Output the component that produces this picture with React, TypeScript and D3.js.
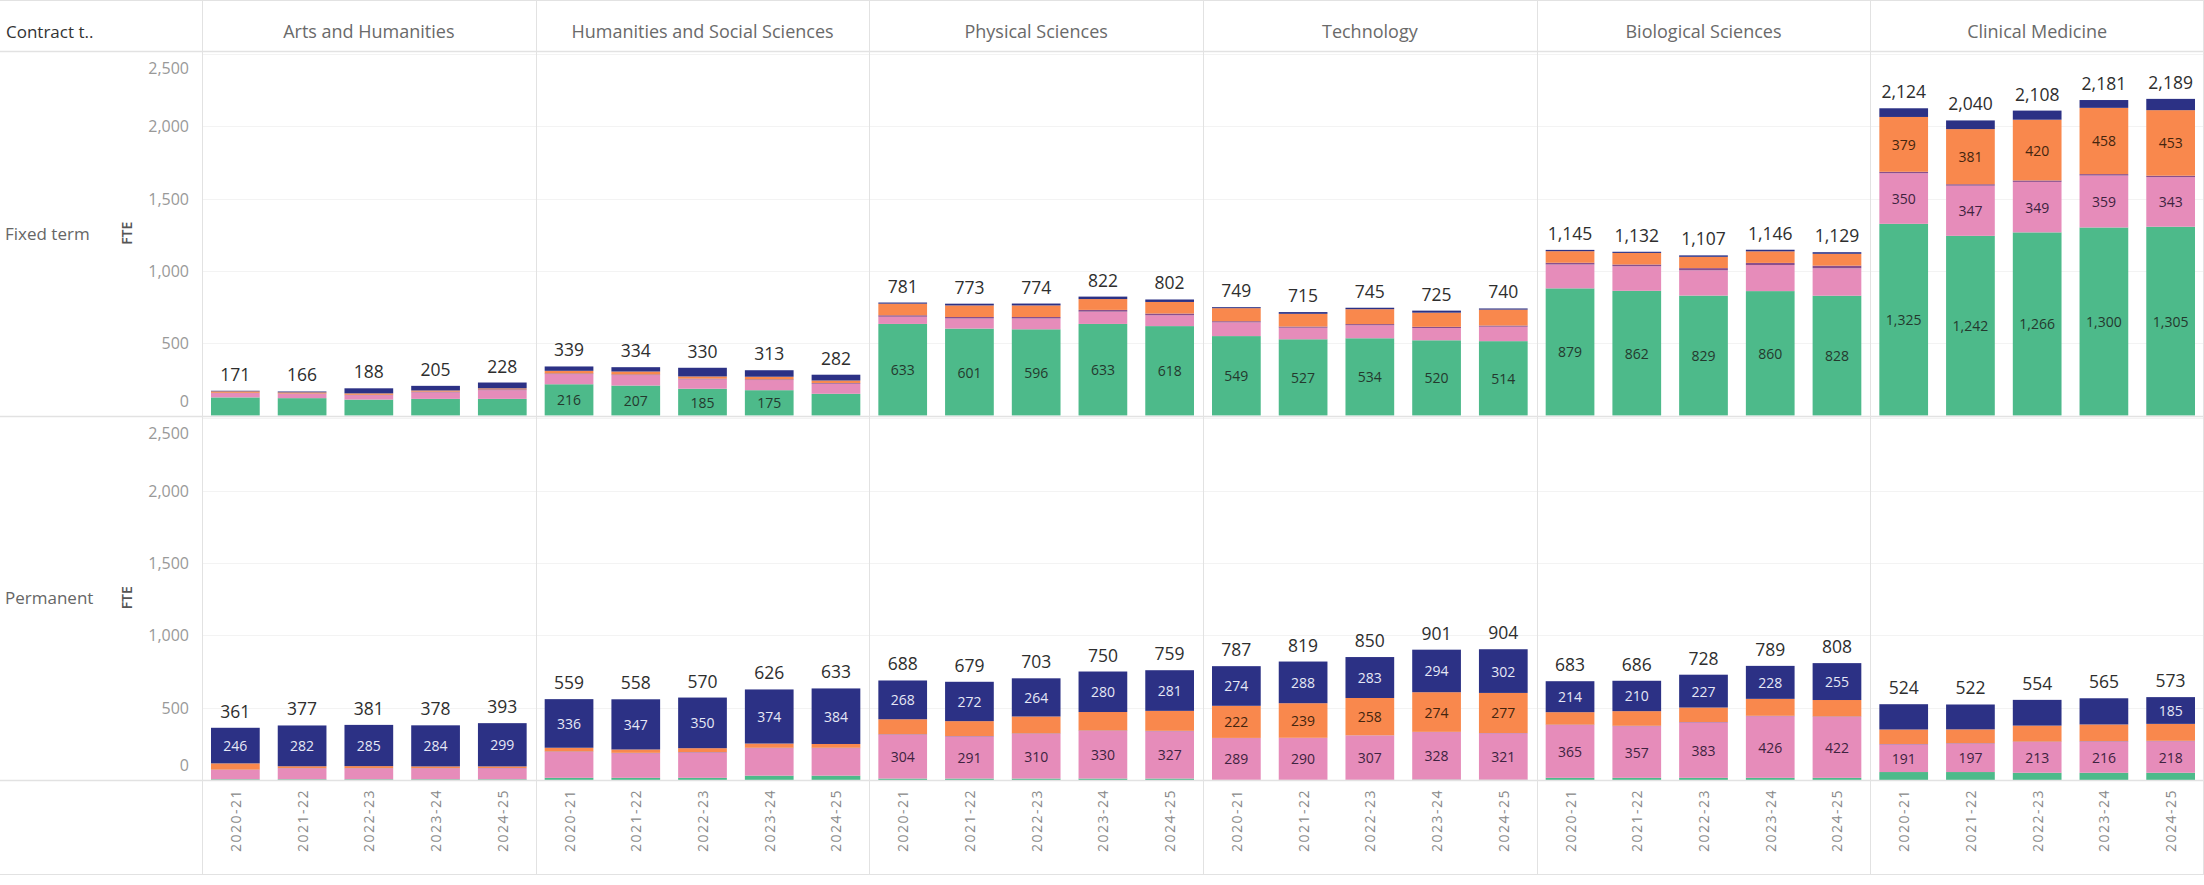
import * as d3 from 'd3';

const disciplines = [
  'Arts and Humanities',
  'Humanities and Social Sciences',
  'Physical Sciences',
  'Technology',
  'Biological Sciences',
  'Clinical Medicine',
];
const years = ['2020-21', '2021-22', '2022-23', '2023-24', '2024-25'];
const contracts = ['Fixed term', 'Permanent'];
const yTicks = [0, 500, 1000, 1500, 2000, 2500];

// stack order, bottom to top
const seriesKeys = ['green', 'pink', 'purple', 'orange', 'navy'];
const seriesColors: Record<string, string> = {
  green: '#4dba8a',
  pink: '#e68cba',
  purple: '#8a4f8c',
  orange: '#f9884d',
  navy: '#2c3185',
};
const labelColors: Record<string, string> = {
  green: '#24392e',
  pink: '#3e2340',
  purple: '#ffffff',
  orange: '#44250f',
  navy: '#e6e8f6',
};

// values per discipline (6) x year (5), discipline-major
const fixedGreen = [
  125, 120, 110, 115, 115,
  216, 207, 185, 175, 150,
  633, 601, 596, 633, 618,
  549, 527, 534, 520, 514,
  879, 862, 829, 860, 828,
  1325, 1242, 1266, 1300, 1305,
];
const fixedPink = [
  30, 30, 30, 45, 60,
  70, 72, 65, 70, 70,
  50, 70, 75, 85, 75,
  95, 80, 90, 85, 100,
  165, 170, 175, 180, 190,
  350, 347, 349, 359, 343,
];
const fixedPurple = [
  2, 2, 3, 5, 6,
  5, 5, 5, 5, 5,
  10, 10, 10, 12, 12,
  8, 8, 8, 8, 8,
  12, 12, 15, 15, 18,
  10, 10, 10, 10, 10,
];
const fixedOrange = [
  10, 8, 10, 8, 7,
  18, 20, 15, 18, 17,
  80, 80, 80, 75, 80,
  90, 88, 103, 98, 110,
  80, 80, 78, 80, 82,
  379, 381, 420, 458, 453,
];
const fixedNavy = [
  4, 6, 35, 32, 40,
  30, 30, 60, 45, 40,
  8, 12, 13, 17, 17,
  7, 12, 10, 14, 8,
  9, 8, 10, 11, 11,
  60, 60, 63, 54, 78,
];

const permGreen = [
  5, 5, 5, 5, 5,
  15, 15, 15, 30, 30,
  10, 10, 10, 10, 10,
  1, 1, 1, 3, 2,
  15, 15, 15, 15, 15,
  55, 55, 50, 50, 50,
];
const permPink = [
  65, 75, 75, 75, 76,
  180, 170, 175, 190, 190,
  304, 291, 310, 330, 327,
  289, 290, 307, 328, 321,
  365, 357, 383, 426, 422,
  191, 197, 213, 216, 218,
];
const permPurple = [
  2, 2, 2, 2, 2,
  3, 3, 3, 3, 3,
  3, 3, 3, 3, 3,
  1, 1, 1, 2, 2,
  3, 3, 3, 3, 3,
  3, 3, 3, 3, 3,
];
const permOrange = [
  43, 13, 14, 12, 11,
  25, 23, 27, 29, 26,
  103, 103, 116, 127, 138,
  222, 239, 258, 274, 277,
  86, 101, 100, 117, 113,
  100, 95, 110, 115, 117,
];
const permNavy = [
  246, 282, 285, 284, 299,
  336, 347, 350, 374, 384,
  268, 272, 264, 280, 281,
  274, 288, 283, 294, 302,
  214, 210, 227, 228, 255,
  175, 172, 178, 181, 185,
];

// which segments carry a value label, per discipline
const fixedLabelled = [[], ['green'], ['green'], ['green'], ['green'], ['green', 'pink', 'orange']];
const permLabelled = [['navy'], ['navy'], ['navy', 'pink'], ['navy', 'orange', 'pink'], ['navy', 'pink'], ['pink']];
const extraLabels = ['Permanent|Clinical Medicine|2024-25|navy'];
const minLabelValue = 170;

const W = 2204;
const H = 885;
const panelLeft = 202;
const plotTop = 51;
const plotBottom = 780;
const axisBottom = 874;
const font = "'Open Sans', 'DejaVu Sans', sans-serif";
const lineColor = '#e2e2e2';

const seriesByContract: Record<string, Record<string, number[]>> = {
  'Fixed term': { green: fixedGreen, pink: fixedPink, purple: fixedPurple, orange: fixedOrange, navy: fixedNavy },
  Permanent: { green: permGreen, pink: permPink, purple: permPurple, orange: permOrange, navy: permNavy },
};
const labelledByContract: Record<string, string[][]> = {
  'Fixed term': fixedLabelled,
  Permanent: permLabelled,
};

const fmt = d3.format(',');

export default function App() {
  const xPanel = d3.scaleBand().domain(disciplines).range([panelLeft, W]);
  const xYear = d3
    .scaleBand()
    .domain(years)
    .range([0, xPanel.bandwidth()])
    .paddingInner(0.27)
    .paddingOuter(0.135);
  const yRow = d3.scaleBand().domain(contracts).range([plotTop, plotBottom]);

  const rows = contracts.map((contract) => {
    const top = yRow(contract)!;
    const bottom = top + yRow.bandwidth();
    const y = d3.scaleLinear().domain([0, 2520]).range([bottom, top]);
    const series = seriesByContract[contract];

    const table = disciplines.flatMap((disc, di) =>
      years.map((year, yi) => {
        const row: Record<string, any> = { disc, di, year };
        seriesKeys.forEach((k) => (row[k] = series[k][di * years.length + yi]));
        return row;
      })
    );
    const stacked = d3.stack<any>().keys(seriesKeys)(table);
    return { contract, top, bottom, y, table, stacked };
  });

  return (
    <svg
      width={W}
      height={H}
      style={{ position: 'absolute', left: 0, top: 0, background: '#fff' }}
      fontFamily={font}
    >
      <rect width={W} height={H} fill="#fff" />

      {/* header */}
      <text x={6} y={31} fontSize={17} fill="#333" dominantBaseline="central">
        Contract t..
      </text>
      {disciplines.map((d) => (
        <text
          key={d}
          x={xPanel(d)! + xPanel.bandwidth() / 2}
          y={31}
          fontSize={18}
          fill="#6a6a6a"
          textAnchor="middle"
          dominantBaseline="central"
        >
          {d}
        </text>
      ))}

      {rows.map(({ contract, top, bottom, y, table, stacked }) => (
        <g key={contract}>
          {/* gridlines */}
          {yTicks
            .filter((t) => t > 0)
            .map((t) => (
              <line
                key={t}
                x1={panelLeft}
                x2={W}
                y1={Math.round(y(t)) + 0.5}
                y2={Math.round(y(t)) + 0.5}
                stroke="#f3f3f3"
              />
            ))}
          {/* row label and axis */}
          <text
            x={5}
            y={(top + bottom) / 2}
            fontSize={17}
            fill="#666"
            dominantBaseline="central"
          >
            {contract}
          </text>
          <text
            transform={`translate(126,${(top + bottom) / 2}) rotate(-90)`}
            fontSize={14}
            fontWeight={600}
            fill="#555"
            textAnchor="middle"
            dominantBaseline="central"
          >
            FTE
          </text>
          {yTicks.map((t) => (
            <text
              key={t}
              x={189}
              y={Math.min(Math.max(y(t), top + 17), bottom - 15)}
              fontSize={16}
              fill="#999"
              textAnchor="end"
              dominantBaseline="central"
            >
              {fmt(t)}
            </text>
          ))}

          {/* bars */}
          {stacked.map((layer) => (
            <g key={layer.key} fill={seriesColors[layer.key]}>
              {layer.map((seg, i) => {
                const d = table[i];
                const x = xPanel(d.disc)! + xYear(d.year)!;
                return (
                  <rect
                    key={i}
                    x={x}
                    y={y(seg[1])}
                    width={xYear.bandwidth()}
                    height={Math.max(0, y(seg[0]) - y(seg[1]))}
                  />
                );
              })}
            </g>
          ))}

          {/* segment labels */}
          {stacked.map((layer) =>
            layer.map((seg, i) => {
              const d = table[i];
              const v = d[layer.key];
              const key = `${contract}|${d.disc}|${d.year}|${layer.key}`;
              const show =
                extraLabels.includes(key) ||
                (labelledByContract[contract][d.di].includes(layer.key) && v >= minLabelValue);
              if (!show) return null;
              return (
                <text
                  key={`${layer.key}-${i}`}
                  x={xPanel(d.disc)! + xYear(d.year)! + xYear.bandwidth() / 2}
                  y={(y(seg[0]) + y(seg[1])) / 2}
                  fontSize={14}
                  fill={labelColors[layer.key]}
                  textAnchor="middle"
                  dominantBaseline="central"
                >
                  {fmt(v)}
                </text>
              );
            })
          )}

          {/* totals */}
          {table.map((d, i) => {
            const total = d3.sum(seriesKeys, (k) => d[k]);
            return (
              <text
                key={i}
                x={xPanel(d.disc)! + xYear(d.year)! + xYear.bandwidth() / 2}
                y={y(total) - 10}
                fontSize={17.5}
                fill="#2e2e2e"
                textAnchor="middle"
              >
                {fmt(total)}
              </text>
            );
          })}
        </g>
      ))}

      {/* x axis labels */}
      {disciplines.map((disc) =>
        years.map((year) => (
          <text
            key={disc + year}
            transform={`translate(${xPanel(disc)! + xYear(year)! + xYear.bandwidth() / 2},789) rotate(-90)`}
            fontSize={14}
            letterSpacing={1.5}
            fill="#888"
            textAnchor="end"
            dominantBaseline="central"
          >
            {year}
          </text>
        ))
      )}

      {/* frame lines */}
      <line x1={0} x2={W} y1={0.5} y2={0.5} stroke={lineColor} />
      <line x1={0} x2={W} y1={plotTop + 0.5} y2={plotTop + 0.5} stroke={lineColor} strokeWidth={1.5} />
      {rows.map(({ contract, bottom }) => (
        <line
          key={contract}
          x1={0}
          x2={W}
          y1={Math.round(bottom) + 0.5}
          y2={Math.round(bottom) + 0.5}
          stroke={lineColor}
          strokeWidth={1.5}
        />
      ))}
      <line x1={0} x2={W} y1={axisBottom + 0.5} y2={axisBottom + 0.5} stroke={lineColor} />
      {disciplines.map((d) => (
        <line
          key={d}
          x1={Math.round(xPanel(d)!) + 0.5}
          x2={Math.round(xPanel(d)!) + 0.5}
          y1={0}
          y2={axisBottom}
          stroke={lineColor}
        />
      ))}
      <line x1={W - 0.5} x2={W - 0.5} y1={0} y2={axisBottom} stroke={lineColor} />
    </svg>
  );
}
